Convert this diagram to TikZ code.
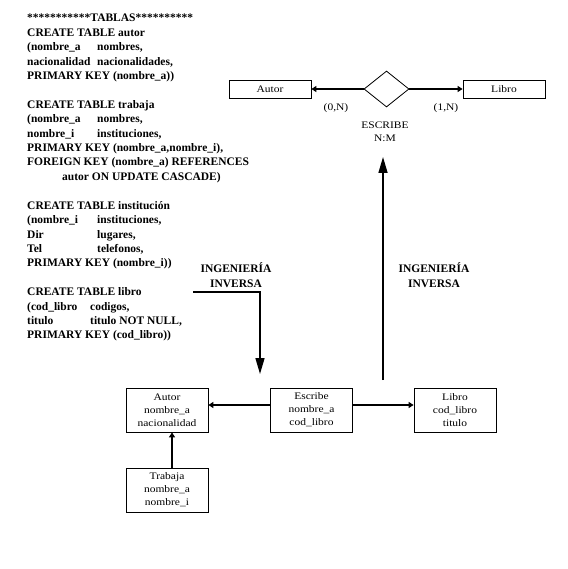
\documentclass[tikz,border=0pt]{standalone}
\usepackage{fontspec}
\setmainfont{Liberation Serif}
\newfontfamily\boxfont[FakeStretch=1.15]{Liberation Serif}
\usetikzlibrary{shapes.geometric,arrows.meta}
\tikzset{
  sql/.style={anchor=base west, inner sep=0pt, font=\fontsize{11.5}{14.4}\selectfont\bfseries},
  ing/.style={align=center, inner sep=0pt, font=\fontsize{11.5}{14.4}\selectfont\bfseries},
  lbl/.style={inner sep=0pt, font=\boxfont\fontsize{10}{13}\selectfont},
  erbox/.style={draw, line width=0.8pt, minimum width=82pt, minimum height=18pt, inner sep=0pt, font=\boxfont\fontsize{10}{13}\selectfont},
  tbox/.style={draw, line width=0.8pt, minimum width=82pt, minimum height=44pt, inner sep=0pt, align=center, font=\boxfont\fontsize{10}{13}\selectfont},
  tharr/.style={line width=2pt, -{Triangle[length=5pt,width=6pt]}},
  bigarr/.style={line width=1.5pt, -{Triangle[length=16pt,width=9pt]}}
}
\begin{document}
\begin{tikzpicture}[x=1pt,y=-1pt]
\useasboundingbox (0,0) rectangle (567,569);
% SQL text
\node[sql] (s0) at (27,22) {***********TABLAS**********};
\node[sql] (s1) at (27,36.4) {CREATE TABLE autor};
\node[sql] (s2) at (27,50.8) {\makebox[70pt][l]{(nombre\_a}nombres,};
\node[sql] (s3) at (27,65.2) {\makebox[70pt][l]{nacionalidad}nacionalidades,};
\node[sql] (s4) at (27,79.6) {PRIMARY KEY (nombre\_a))};
\node[sql] (s6) at (27,108.4) {CREATE TABLE trabaja};
\node[sql] (s7) at (27,122.8) {\makebox[70pt][l]{(nombre\_a}nombres,};
\node[sql] (s8) at (27,137.2) {\makebox[70pt][l]{nombre\_i}instituciones,};
\node[sql] (s9) at (27,151.6) {PRIMARY KEY (nombre\_a,nombre\_i),};
\node[sql] (s10) at (27,166) {FOREIGN KEY (nombre\_a) REFERENCES};
\node[sql] (s11) at (62,180.4) {autor ON UPDATE CASCADE)};
\node[sql] (s13) at (27,209.2) {CREATE TABLE institución};
\node[sql] (s14) at (27,223.6) {\makebox[70pt][l]{(nombre\_i}instituciones,};
\node[sql] (s15) at (27,238) {\makebox[70pt][l]{Dir}lugares,};
\node[sql] (s16) at (27,252.4) {\makebox[70pt][l]{Tel}telefonos,};
\node[sql] (s17) at (27,266.8) {PRIMARY KEY (nombre\_i))};
\node[sql] (s19) at (27,295.6) {CREATE TABLE libro};
\node[sql] (s20) at (27,310) {\makebox[63pt][l]{(cod\_libro}codigos,};
\node[sql] (s21) at (27,324.4) {\makebox[63pt][l]{titulo}titulo NOT NULL,};
\node[sql] (s22) at (27,338.8) {PRIMARY KEY (cod\_libro))};
% ER diagram
\node[erbox] (autorT) at (270,89) {Autor};
\node[erbox] (libroT) at (504,89) {Libro};
\node[diamond, draw, line width=0.8pt, minimum width=45pt, minimum height=36pt, inner sep=0pt] (rel) at (386.5,89) {};
\draw[tharr] (rel.west) -- (autorT.east);
\draw[tharr] (rel.east) -- (libroT.west);
\node[lbl] (c0) at (336,108) {(0,N)};
\node[lbl] (c1) at (446,108) {(1,N)};
\node[lbl] (esc) at (385,125) {ESCRIBE};
\node[lbl] (nm) at (385,138) {N:M};
% Ingenieria inversa
\node[ing] (ingL) at (236,275) {INGENIERÍA\\INVERSA};
\node[ing] (ingR) at (434,275) {INGENIERÍA\\INVERSA};
\coordinate (lA) at (193,292);
\coordinate (lB) at (260,292);
\coordinate (lC) at (260,374);
\draw[bigarr] (lA) -- (lB) -- (lC);
\coordinate (rA) at (383,380);
\coordinate (rB) at (383,157);
\draw[bigarr] (rA) -- (rB);
% Relational boxes
\node[tbox] (autR) at (167,410) {Autor\\nombre\_a\\nacionalidad};
\node[tbox] (escR) at (311.5,410) {Escribe\\nombre\_a\\cod\_libro};
\node[tbox] (libR) at (455,410) {Libro\\cod\_libro\\titulo};
\node[tbox] (trabR) at (167,490) {Trabaja\\nombre\_a\\nombre\_i};
\draw[tharr] ([yshift=5pt]escR.west) -- ([yshift=5pt]autR.east);
\draw[tharr] ([yshift=5pt]escR.east) -- ([yshift=5pt]libR.west);
\draw[tharr] ([xshift=5pt]trabR.north) -- ([xshift=5pt]autR.south);
\end{tikzpicture}
\end{document}
